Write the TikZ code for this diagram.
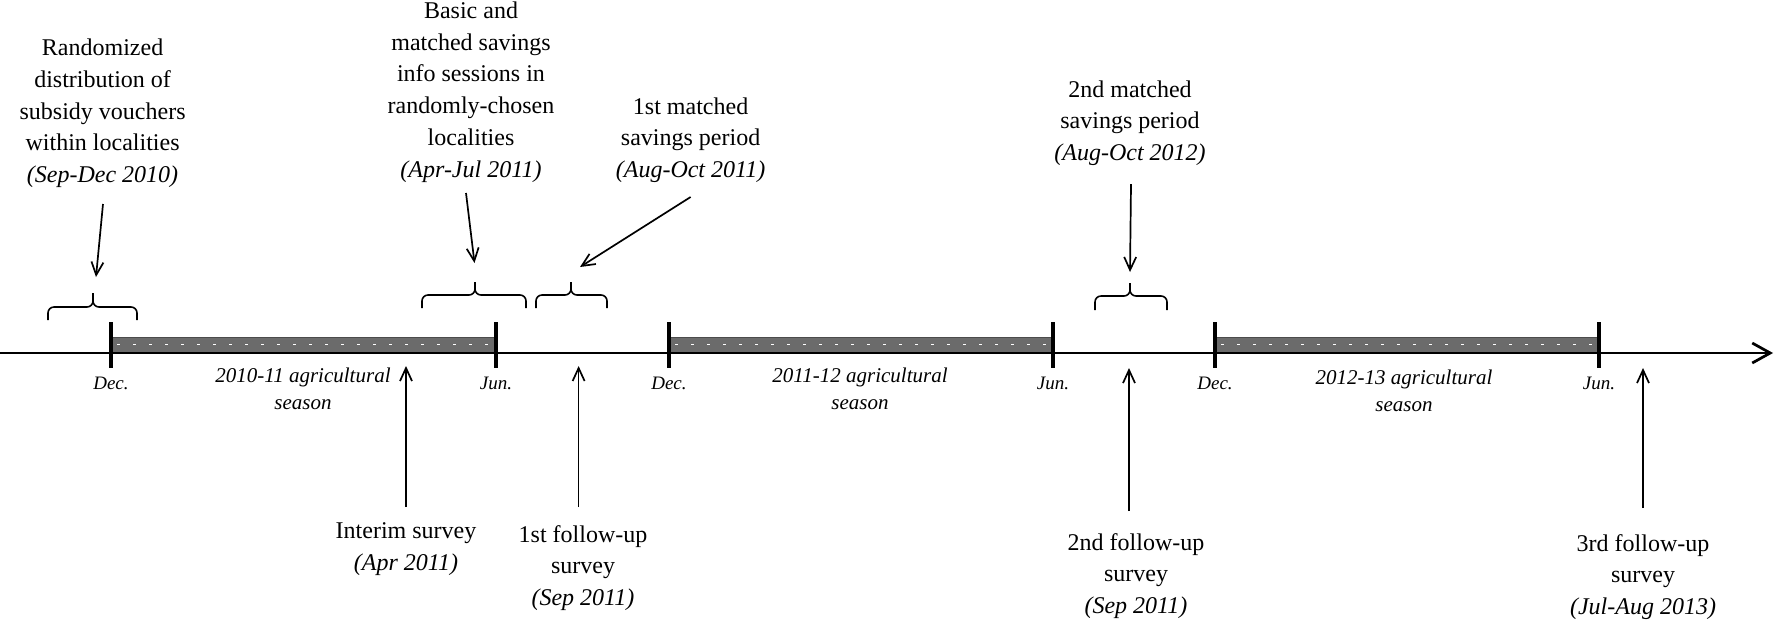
\documentclass[tikz,border=0pt]{standalone}
\usepackage{fontspec}
\setmainfont{Liberation Serif}
\usetikzlibrary{arrows.meta}
\begin{document}
\begin{tikzpicture}[x=0.5pt,y=-0.5pt,
  lbl/.style={align=center, font=\fontsize{12}{15.85}\selectfont, inner sep=0pt},
  mon/.style={font=\fontsize{9.5}{11}\selectfont\itshape, inner sep=0pt},
  sea/.style={align=center, font=\fontsize{10.5}{13.5}\selectfont\itshape, inner sep=0pt},
  arr/.style={line width=0.85pt, -{Straight Barb[length=6.5pt,width=6pt]}},
  axisline/.style={line width=1.35pt, -{Straight Barb[length=9pt,width=10pt]}},
  tickline/.style={line width=1.6pt},
  brc/.style={line width=0.8pt, rounded corners=3pt},
  bar/.style={fill=black!58, draw=black!70, line width=0.3pt},
  dots/.style={draw=white, line width=0.9pt, dash pattern=on 1.5pt off 6.5pt}
]
\useasboundingbox (0,0) rectangle (1775,623);

% season bars
\foreach \a/\b in {111/496, 669/1053, 1215/1599}{
  \path[bar] (\a,337) rectangle (\b,352);
  \draw[dots] (\a+6,344.5) -- (\b-4,344.5);
}

% axis
\coordinate (axL) at (0,353);
\coordinate (axR) at (1773,353);
\draw[axisline] (axL) -- (axR);

% ticks
\foreach \x in {111, 496, 669, 1053, 1215, 1599}{
  \draw[tickline] (\x,322) -- (\x,368);
}

% month labels
\node[mon] (md1) at (111,383) {Dec.};
\node[mon] (mj1) at (496,383) {Jun.};
\node[mon] (md2) at (669,383) {Dec.};
\node[mon] (mj2) at (1053,383) {Jun.};
\node[mon] (md3) at (1215,383) {Dec.};
\node[mon] (mj3) at (1599,383) {Jun.};

% season labels
\node[sea] (s1) at (303,388.5) {2010-11 agricultural\\season};
\node[sea] (s2) at (860,388.5) {2011-12 agricultural\\season};
\node[sea] (s3) at (1404,390.5) {2012-13 agricultural\\season};

% braces
\draw[brc] (48,320) -- (48,307) -- (93,307) -- (93,293);
\draw[brc] (137,320) -- (137,307) -- (93,307) -- (93,293);
\draw[brc] (422,308) -- (422,295) -- (475,295) -- (475,282);
\draw[brc] (526,308) -- (526,295) -- (475,295) -- (475,282);
\draw[brc] (536,308) -- (536,295) -- (571,295) -- (571,282);
\draw[brc] (607,308) -- (607,295) -- (571,295) -- (571,282);
\draw[brc] (1095,310) -- (1095,296) -- (1130,296) -- (1130,283);
\draw[brc] (1167,310) -- (1167,296) -- (1130,296) -- (1130,283);

% top labels
\node[lbl] (t1) at (102.6,113.5) {Randomized\\distribution of\\subsidy vouchers\\within localities\\\textit{(Sep-Dec 2010)}};
\node[lbl] (t2) at (471,92) {Basic and\\matched savings\\info sessions in\\randomly-chosen\\localities\\\textit{(Apr-Jul 2011)}};
\node[lbl] (t3) at (690.6,140) {1st matched\\savings period\\\textit{(Aug-Oct 2011)}};
\node[lbl] (t4) at (1130,123) {2nd matched\\savings period\\\textit{(Aug-Oct 2012)}};

% bottom labels
\node[lbl] (b1) at (406,549) {Interim survey\\\textit{(Apr 2011)}};
\node[lbl] (b2) at (583,568) {1st follow-up\\survey\\\textit{(Sep 2011)}};
\node[lbl] (b3) at (1136,576) {2nd follow-up\\survey\\\textit{(Sep 2011)}};
\node[lbl] (b4) at (1643,577) {3rd follow-up\\survey\\\textit{(Jul-Aug 2013)}};

% arrow endpoints
\coordinate (a1s) at (103,204);   \coordinate (a1e) at (96,277);
\coordinate (a2s) at (466,193);   \coordinate (a2e) at (474.5,263);
\coordinate (a3s) at (690.6,197); \coordinate (a3e) at (580,267);
\coordinate (a4s) at (1131,184);  \coordinate (a4e) at (1130,272);
\coordinate (u1s) at (406,507);   \coordinate (u1e) at (406,366);
\coordinate (u2s) at (578.6,507); \coordinate (u2e) at (578.6,366);
\coordinate (u3s) at (1129,511);  \coordinate (u3e) at (1129,368);
\coordinate (u4s) at (1643,508);  \coordinate (u4e) at (1643,368);

\draw[arr] (a1s) -- (a1e);
\draw[arr] (a2s) -- (a2e);
\draw[arr] (a3s) -- (a3e);
\draw[arr] (a4s) -- (a4e);
\draw[arr] (u1s) -- (u1e);
\draw[arr] (u2s) -- (u2e);
\draw[arr] (u3s) -- (u3e);
\draw[arr] (u4s) -- (u4e);
\end{tikzpicture}
\end{document}
